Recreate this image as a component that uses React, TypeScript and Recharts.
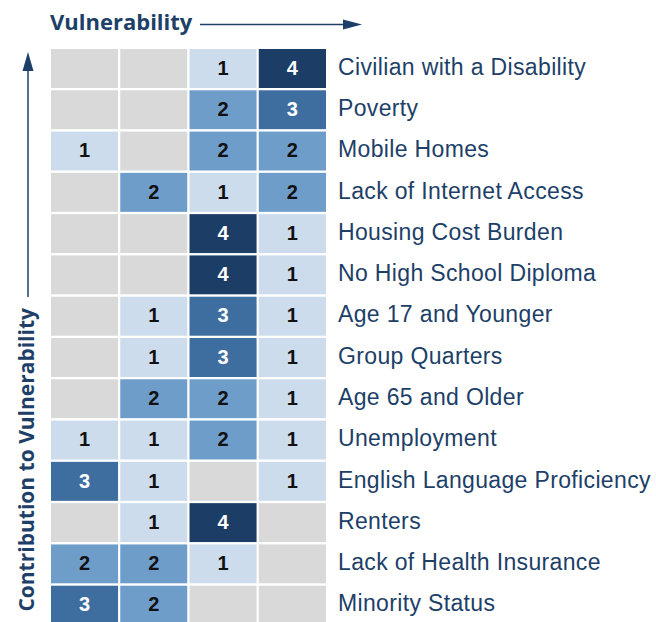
import React from "react";
import { BarChart, Bar, XAxis, YAxis } from "recharts";

const categories = [
  "Civilian with a Disability",
  "Poverty",
  "Mobile Homes",
  "Lack of Internet Access",
  "Housing Cost Burden",
  "No High School Diploma",
  "Age 17 and Younger",
  "Group Quarters",
  "Age 65 and Older",
  "Unemployment",
  "English Language Proficiency",
  "Renters",
  "Lack of Health Insurance",
  "Minority Status",
];
const col1 = [0, 0, 1, 0, 0, 0, 0, 0, 0, 1, 3, 0, 2, 3];
const col2 = [0, 0, 0, 2, 0, 0, 1, 1, 2, 1, 1, 1, 2, 2];
const col3 = [1, 2, 2, 1, 4, 4, 3, 3, 2, 2, 0, 4, 1, 0];
const col4 = [4, 3, 2, 2, 1, 1, 1, 1, 1, 1, 1, 0, 0, 0];
const columnKeys = ["c1", "c2", "c3", "c4"];

const fills = ["#d9d9d9", "#cddcec", "#6f9dca", "#3e6e9f", "#1b3d66"];
const textColors = ["#000", "#111", "#111", "#fff", "#fff"];
const navy = "#1d3f68";

const data = categories.map((name, i) => ({
  name,
  c1: col1[i],
  c2: col2[i],
  c3: col3[i],
  c4: col4[i],
}));

const makeShape = (key: string) => (props: any) => {
  const { x, y, width, height, payload } = props;
  const v = payload[key] as number;
  return (
    <g>
      <rect x={x} y={y} width={width} height={height} fill={fills[v]} stroke="#fff" strokeWidth={2} />
      {v > 0 && (
        <text
          x={x + width / 2}
          y={y + height / 2 + 1}
          textAnchor="middle"
          dominantBaseline="middle"
          fontFamily="Liberation Sans, Arial, sans-serif"
          fontWeight={700}
          fontSize={20}
          fill={textColors[v]}
        >
          {v}
        </text>
      )}
    </g>
  );
};

const RightTick = (props: any) => {
  const { x, y, payload } = props;
  return (
    <text
      x={x + 11}
      y={y}
      dominantBaseline="middle"
      textAnchor="start"
      fontFamily="Liberation Sans, Arial, sans-serif"
      fontSize={23}
      letterSpacing={0.35}
      fill={navy}
    >
      {payload.value}
    </text>
  );
};

export default function App() {
  return (
    <div style={{ position: "absolute", left: 0, top: 0, width: 656, height: 622, overflow: "hidden", background: "#fff" }}>
      <BarChart
        width={656}
        height={626}
        data={data}
        layout="vertical"
        margin={{ top: 48, right: 0, left: 50, bottom: 0 }}
        barCategoryGap={0}
      >
        <XAxis type="number" domain={[0, 4]} hide />
        <YAxis
          type="category"
          dataKey="name"
          orientation="right"
          width={329}
          axisLine={false}
          tickLine={false}
          tickSize={0}
          tickMargin={0}
          interval={0}
          tick={<RightTick />}
        />
        {columnKeys.map((k) => (
          <Bar key={k} dataKey={() => 1} stackId="a" isAnimationActive={false} shape={makeShape(k)} />
        ))}
      </BarChart>
      <svg width={656} height={622} style={{ position: "absolute", left: 0, top: 0, pointerEvents: "none" }}>
        <text x={50} y={30} fontFamily="Open Sans, sans-serif" fontWeight={700} fontSize={22} fill={navy}>
          Vulnerability
        </text>
        <line x1={200} y1={24.5} x2={348} y2={24.5} stroke={navy} strokeWidth={1.5} />
        <polygon points="343,19.5 362,24.5 343,29.5" fill={navy} />
        <polygon points="22.5,71 28,52 33.5,71" fill={navy} />
        <line x1={28} y1={68} x2={28} y2={297} stroke={navy} strokeWidth={1.5} />
        <text
          transform="translate(34,308) rotate(-90)"
          textAnchor="end"
          fontFamily="Open Sans, sans-serif"
          fontWeight={700}
          fontSize={21}
          fill={navy}
        >
          Contribution to Vulnerability
        </text>
      </svg>
    </div>
  );
}
